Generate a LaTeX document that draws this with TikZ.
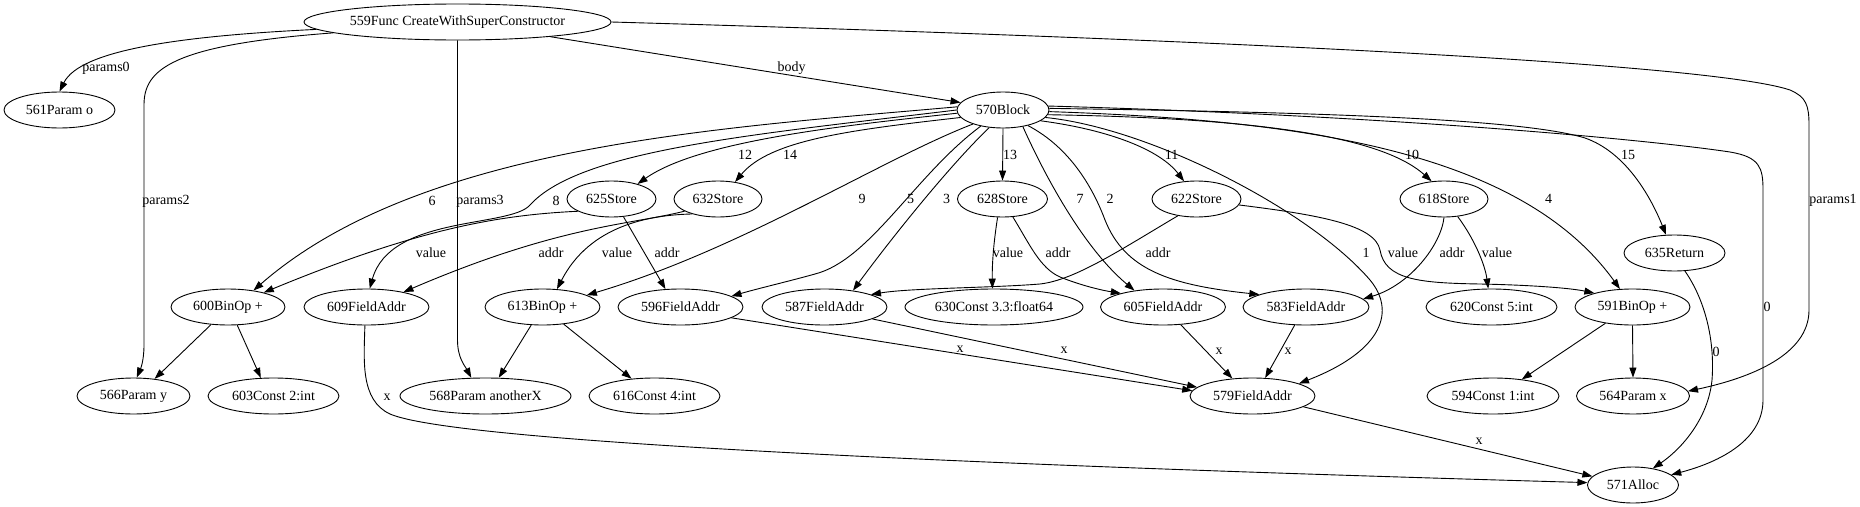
\documentclass[tikz,border=0pt]{standalone}
\usepackage{fontspec}
\setmainfont{Liberation Serif}
\usetikzlibrary{arrows.meta,shapes.geometric}
\begin{document}
\begin{tikzpicture}[x=1pt,y=-1pt,
  nd/.style={draw, ellipse, minimum height=36pt, inner sep=0pt, line width=0.9pt, font=\fontsize{14pt}{16pt}\selectfont},
  lbl/.style={inner sep=0pt, font=\fontsize{14pt}{16pt}\selectfont},
  conn/.style={line width=0.9pt, -{Triangle[length=10pt,width=7pt]}}]
\useasboundingbox[fill=white] (0,0) rectangle (1860,506);
% nodes
\node[nd, minimum width=307pt] (n559) at (457.5,22) {559Func CreateWithSuperConstructor};
\node[nd, minimum width=111pt] (n561) at (59.5,110) {561Param o};
\node[nd, minimum width=92pt] (n570) at (1003,110) {570Block};
\node[nd, minimum width=89pt] (n625) at (611.5,199) {625Store};
\node[nd, minimum width=88pt] (n632) at (718,199) {632Store};
\node[nd, minimum width=90pt] (n628) at (1002.5,199) {628Store};
\node[nd, minimum width=89pt] (n622) at (1196.5,199) {622Store};
\node[nd, minimum width=88pt] (n618) at (1444,199) {618Store};
\node[nd, minimum width=101pt] (n635) at (1674.5,253) {635Return};
\node[nd, minimum width=114pt] (n600) at (228,307) {600BinOp +};
\node[nd, minimum width=125pt] (n609) at (366.5,307) {609FieldAddr};
\node[nd, minimum width=115pt] (n613) at (542.5,307) {613BinOp +};
\node[nd, minimum width=125pt] (n596) at (680.5,307) {596FieldAddr};
\node[nd, minimum width=125pt] (n587) at (824.5,307) {587FieldAddr};
\node[nd, minimum width=178pt] (n630) at (994,307) {630Const 3.3:float64};
\node[nd, minimum width=125pt] (n605) at (1163,307) {605FieldAddr};
\node[nd, minimum width=126pt] (n583) at (1306,307) {583FieldAddr};
\node[nd, minimum width=131pt] (n620) at (1491.5,307) {620Const 5:int};
\node[nd, minimum width=115pt] (n591) at (1632.5,307) {591BinOp +};
\node[nd, minimum width=113pt] (n566) at (133.5,396) {566Param y};
\node[nd, minimum width=131pt] (n603) at (273.5,396) {603Const 2:int};
\node[nd, minimum width=171pt] (n568) at (485.5,396) {568Param anotherX};
\node[nd, minimum width=131pt] (n616) at (654.5,396) {616Const 4:int};
\node[nd, minimum width=125pt] (n579) at (1252.5,396) {579FieldAddr};
\node[nd, minimum width=132pt] (n594) at (1493,396) {594Const 1:int};
\node[nd, minimum width=113pt] (n564) at (1633,396) {564Param x};
\node[nd, minimum width=91pt] (n571) at (1633,485) {571Alloc};
% edges from 559
\draw[conn] (n559.183) .. controls (180,36) and (80,50) .. (n561.north);
\draw[conn] (n559.185) .. controls (170,45) and (144,70) .. (144,105) -- (144,345) .. controls (144,362) and (140,370) .. (n566.80);
\draw[conn] (n559.south) -- (457.5,340) .. controls (457.5,358) and (465,366) .. (n568.128);
\draw[conn] (n559.-9) -- (n570.170);
\draw[conn] (n559.east) .. controls (1100,36) and (1700,60) .. (1790,90) .. controls (1806,97) and (1809,105) .. (1809,125) -- (1809,310) .. controls (1809,355) and (1750,378) .. (n564.5);
% edges from 570
\draw[conn] (n570.176) .. controls (720,128) and (420,145) .. (n600.33);
\draw[conn] (n570.180) .. controls (750,135) and (580,150) .. (530,205) .. controls (510,228) and (390,215) .. (n609.80);
\draw[conn] (n570.184) .. controls (850,125) and (700,140) .. (n625.30);
\draw[conn] (n570.190) .. controls (850,130) and (770,140) .. (n632.45);
\draw[conn] (n570.205) .. controls (880,160) and (740,250) .. (n613.15);
\draw[conn] (n570.216) .. controls (915,175) and (870,260) .. (815,274) .. controls (790,281) and (760,288) .. (n596.12);
\draw[conn] (n570.232) .. controls (950,165) and (890,240) .. (n587.30);
\draw[conn] (n570.south) -- (n628.north);
\draw[conn] (n570.-40) .. controls (1040,165) and (1080,245) .. (n605.150);
\draw[conn] (n570.-32) .. controls (1065,145) and (1090,180) .. (1105,220) .. controls (1125,270) and (1170,285) .. (n583.165);
\draw[conn] (n570.-16) .. controls (1110,130) and (1160,150) .. (n622.125);
\draw[conn] (n570.-10) .. controls (1150,128) and (1310,210) .. (1370,280) .. controls (1395,310) and (1385,350) .. (n579.15);
\draw[conn] (n570.-6) .. controls (1250,118) and (1380,135) .. (n618.125);
\draw[conn] (n570.-2) .. controls (1300,120) and (1520,150) .. (n591.125);
\draw[conn] (n570.2) .. controls (1300,112) and (1520,118) .. (1585,138) .. controls (1625,152) and (1650,195) .. (n635.115);
\draw[conn] (n570.5) .. controls (1400,116) and (1650,140) .. (1730,152) .. controls (1760,157) and (1763,168) .. (1763,190) -- (1763,400) .. controls (1763,440) and (1720,462) .. (n571.15);
% store edges
\draw[conn] (n625.200) .. controls (500,215) and (420,228) .. (n600.22);
\draw[conn] (n625.-56) -- (n596.130);
\draw[conn] (n632.200) .. controls (630,225) and (560,225) .. (n609.22);
\draw[conn] (n632.210) .. controls (650,215) and (590,225) .. (n613.51);
\draw[conn] (n628.255) .. controls (994,240) and (992,262) .. (n630.95);
\draw[conn] (n628.-60) .. controls (1030,245) and (1040,268) .. (1060,277) .. controls (1080,285) and (1100,290) .. (n605.162);
\draw[conn] (n622.222) .. controls (1120,250) and (1075,280) .. (1040,284) .. controls (990,288) and (910,288) .. (n587.15);
\draw[conn] (n622.-8) .. controls (1320,215) and (1375,225) .. (1380,250) .. controls (1385,280) and (1420,283) .. (1480,284) .. controls (1530,285) and (1570,288) .. (n591.160);
\draw[conn] (n618.-90) .. controls (1441,245) and (1410,285) .. (n583.8);
\draw[conn] (n618.-52) .. controls (1475,240) and (1485,265) .. (n620.100);
\draw[conn] (n635.-60) .. controls (1705,300) and (1715,340) .. (1712,380) .. controls (1708,420) and (1680,450) .. (n571.40);
% operand edges
\draw[conn] (n600.226) -- (n566.39);
\draw[conn] (n600.-63) -- (n603.125);
\draw[conn] (n613.238) -- (n568.54);
\draw[conn] (n613.-39) -- (n616.143);
\draw[conn] (n591.211) -- (n594.30);
\draw[conn] (n591.south) -- (n564.north);
% field edges
\draw[conn] (n596.-12) -- (n579.175);
\draw[conn] (n587.-14) -- (n579.171);
\draw[conn] (n605.-45) -- (n579.139);
\draw[conn] (n583.238) -- (n579.55);
\draw[conn] (n579.-12) -- (n571.168);
\draw[conn] (n609.-95) .. controls (364,360) and (360,400) .. (390,414) .. controls (450,440) and (900,463) .. (n571.177);
% labels
\node[lbl] (l1) at (106,68) {params0};
\node[lbl] (l2) at (166,201) {params2};
\node[lbl] (l3) at (480,201) {params3};
\node[lbl] (l4) at (791.5,68) {body};
\node[lbl] (l5) at (1833,200) {params1};
\node[lbl] (l6) at (432,201) {6};
\node[lbl] (l7) at (556,201) {8};
\node[lbl] (l8) at (745,155) {12};
\node[lbl] (l9) at (790,155) {14};
\node[lbl] (l10) at (862,199) {9};
\node[lbl] (l11) at (910.5,199) {5};
\node[lbl] (l12) at (946.5,199) {3};
\node[lbl] (l13) at (1010,155) {13};
\node[lbl] (l14) at (1080,199) {7};
\node[lbl] (l15) at (1110,199) {2};
\node[lbl] (l16) at (1171.5,155) {11};
\node[lbl] (l17) at (1412,155) {10};
\node[lbl] (l18) at (1548.5,199) {4};
\node[lbl] (l19) at (1628,155) {15};
\node[lbl] (l20) at (1767,307) {0};
\node[lbl] (l21) at (1716,352) {0};
\node[lbl] (l22) at (431,253) {value};
\node[lbl] (l23) at (551,253) {addr};
\node[lbl] (l24) at (617,253) {value};
\node[lbl] (l25) at (667,253) {addr};
\node[lbl] (l26) at (1008,253) {value};
\node[lbl] (l27) at (1058,253) {addr};
\node[lbl] (l28) at (1158,253) {addr};
\node[lbl] (l29) at (1366,253) {1};
\node[lbl] (l30) at (1403,253) {value};
\node[lbl] (l31) at (1452,253) {addr};
\node[lbl] (l32) at (1497,253) {value};
\node[lbl] (l33) at (387,397) {x};
\node[lbl] (l34) at (960,349) {x};
\node[lbl] (l35) at (1064,350) {x};
\node[lbl] (l36) at (1219,351) {x};
\node[lbl] (l37) at (1288,351) {x};
\node[lbl] (l38) at (1479,441) {x};
\end{tikzpicture}
\end{document}
